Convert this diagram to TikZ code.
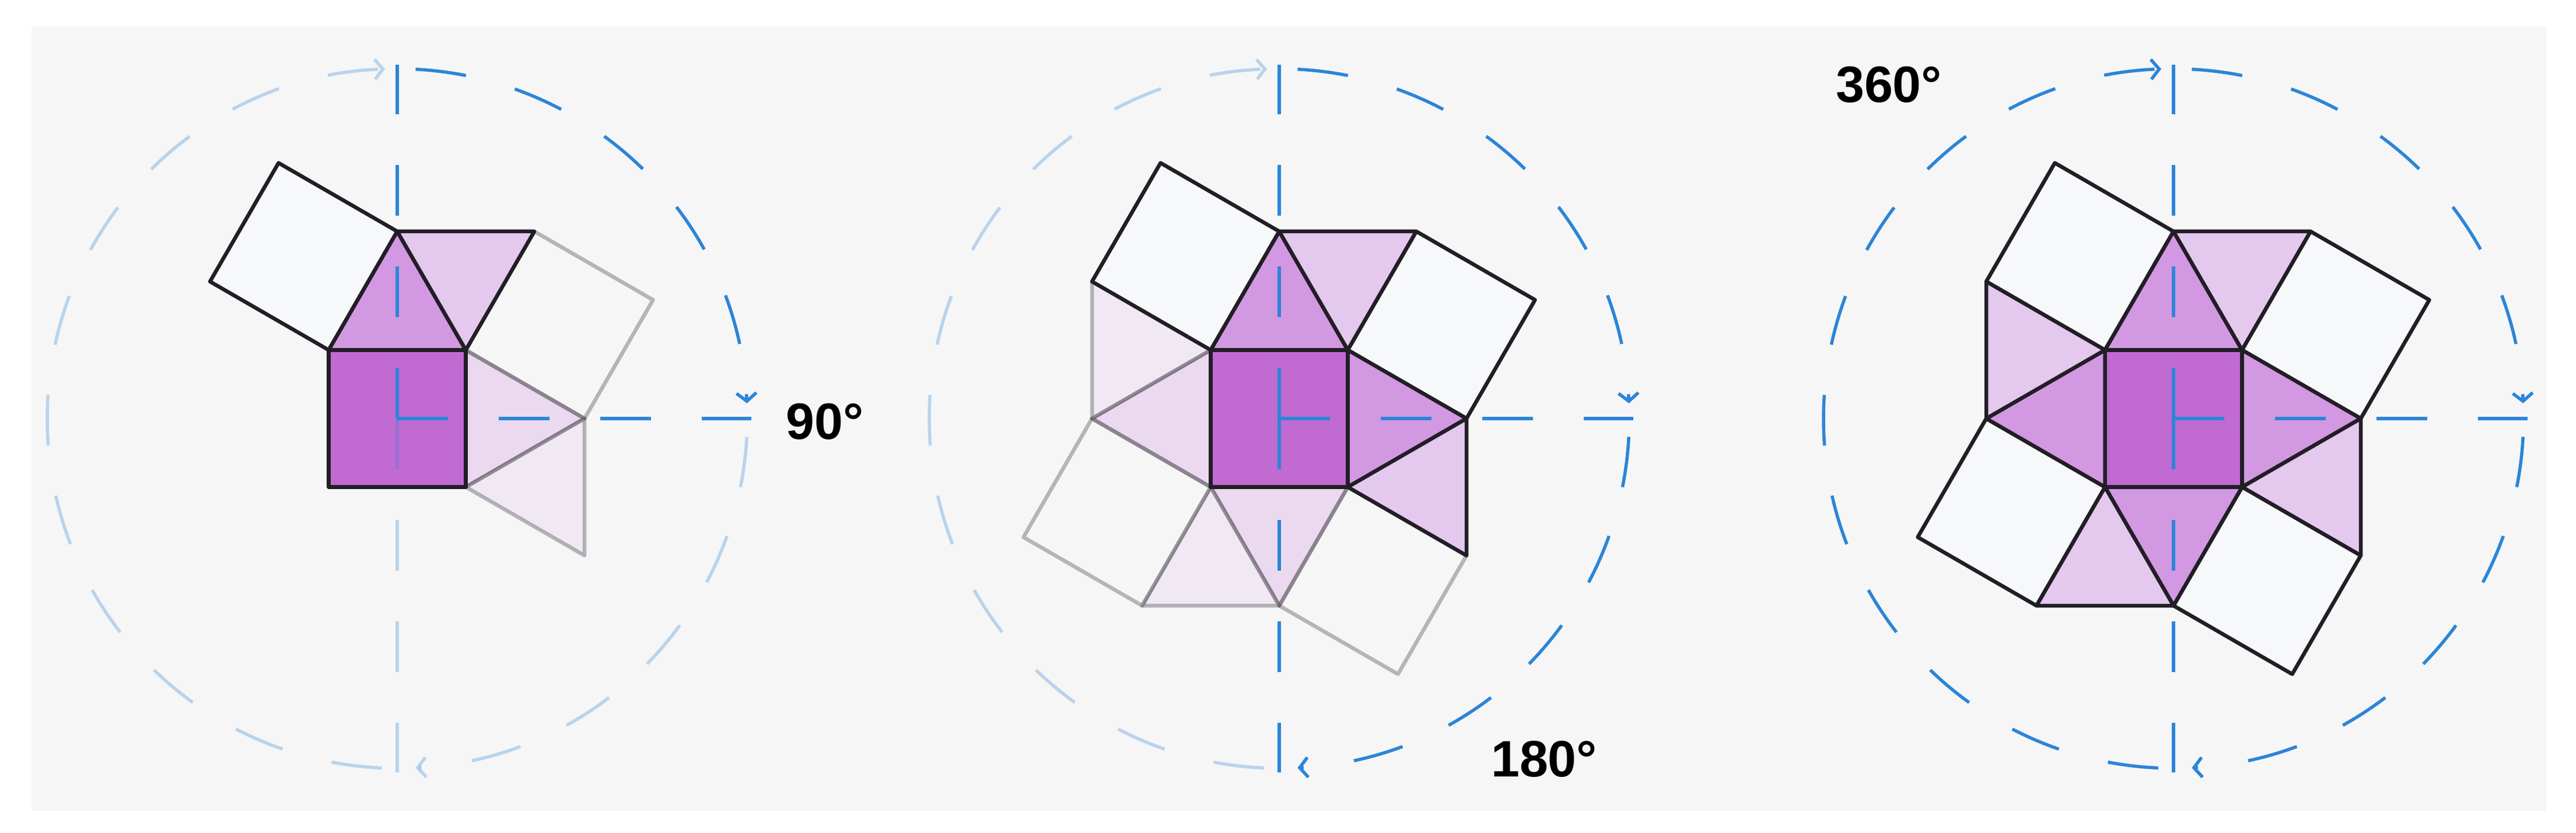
\documentclass[tikz,border=0pt]{standalone}
\usepackage{fontspec}
\setmainfont{Liberation Sans}
\usetikzlibrary{arrows.meta}

\definecolor{bggray}{RGB}{246,246,246}
\definecolor{edge}{RGB}{34,30,38}
\definecolor{core}{RGB}{192,106,210}
\definecolor{dtri}{RGB}{211,152,226}
\definecolor{ltri}{RGB}{228,200,238}
\definecolor{tile}{RGB}{247,248,250}
\definecolor{axis}{RGB}{44,133,216}

% one quarter: white tile, dark triangle, light triangle
\newcommand\quarter[1]{%
  \filldraw[piece, fill=tile, #1] (-1.175,1.175) -- (0,3.21) -- (-2.035,4.385) -- (-3.21,2.35) -- cycle;
  \filldraw[piece, fill=dtri, #1] (-1.175,1.175) -- (1.175,1.175) -- (0,3.21) -- cycle;
  \filldraw[piece, fill=ltri, #1] (0,3.21) -- (2.35,3.21) -- (1.175,1.175) -- cycle;
}

\begin{document}
\begin{tikzpicture}[
  piece/.style = {draw=edge, line width=0.065cm, line join=round},
  faded/.style = {opacity=0.3},
  axisline/.style = {draw=axis, line width=0.055cm, dash pattern=on 0.87cm off 0.87cm},
  ring/.style = {axisline, -{Straight Barb[length=0.14cm, width=0.34cm]}},
  lbl/.style = {font=\fontsize{25}{30}\selectfont\bfseries, inner sep=0pt}
]
\useasboundingbox (0,0) rectangle (44.16,14.28);
\fill[bggray] (0.54,0.37) rectangle (43.65,13.83);

\coordinate (c1) at (6.81,7.10);
\coordinate (c2) at (21.93,7.10);
\coordinate (c3) at (37.26,7.10);

% 90 degrees
\begin{scope}[shift={(c1)}]
  \foreach \k in {1} {\begin{scope}[rotate=-90*\k] \quarter{faded} \end{scope}}
  \filldraw[piece, fill=core] (-1.175,-1.175) rectangle (1.175,1.175);
  \foreach \k in {0} {\begin{scope}[rotate=-90*\k] \quarter{} \end{scope}}
  \draw[axisline] (0,0) -- (0,6.07);
  \draw[axisline] (0,0) -- (6.07,0);
  \draw[axisline, faded] (0,0) -- (0,-6.07);
  \draw[ring] (87:6) arc[start angle=87, end angle=2.5, radius=6];
  \draw[ring, faded] (-3:6) arc[start angle=-3, end angle=-87, radius=6];
  \draw[ring, faded] (-92.5:6) arc[start angle=-92.5, end angle=-268, radius=6];
\end{scope}
\node[lbl] (l90) at (14.14,7.05) {90°};

% 180 degrees
\begin{scope}[shift={(c2)}]
  \foreach \k in {2,3} {\begin{scope}[rotate=-90*\k] \quarter{faded} \end{scope}}
  \filldraw[piece, fill=core] (-1.175,-1.175) rectangle (1.175,1.175);
  \foreach \k in {0,1} {\begin{scope}[rotate=-90*\k] \quarter{} \end{scope}}
  \draw[axisline] (0,0) -- (0,6.07);
  \draw[axisline] (0,0) -- (6.07,0);
  \draw[axisline] (0,0) -- (0,-6.07);
  \draw[ring] (87:6) arc[start angle=87, end angle=2.5, radius=6];
  \draw[ring] (-3:6) arc[start angle=-3, end angle=-87, radius=6];
  \draw[ring, faded] (-92.5:6) arc[start angle=-92.5, end angle=-268, radius=6];
\end{scope}
\node[lbl] (l180) at (26.47,1.26) {180°};

% 360 degrees
\begin{scope}[shift={(c3)}]
  \filldraw[piece, fill=core] (-1.175,-1.175) rectangle (1.175,1.175);
  \foreach \k in {0,1,2,3} {\begin{scope}[rotate=-90*\k] \quarter{} \end{scope}}
  \draw[axisline] (0,0) -- (0,6.07);
  \draw[axisline] (0,0) -- (6.07,0);
  \draw[axisline] (0,0) -- (0,-6.07);
  \draw[ring] (87:6) arc[start angle=87, end angle=2.5, radius=6];
  \draw[ring] (-3:6) arc[start angle=-3, end angle=-87, radius=6];
  \draw[ring] (-92.5:6) arc[start angle=-92.5, end angle=-268, radius=6];
\end{scope}
\node[lbl] (l360) at (32.38,12.83) {360°};
\end{tikzpicture}
\end{document}
